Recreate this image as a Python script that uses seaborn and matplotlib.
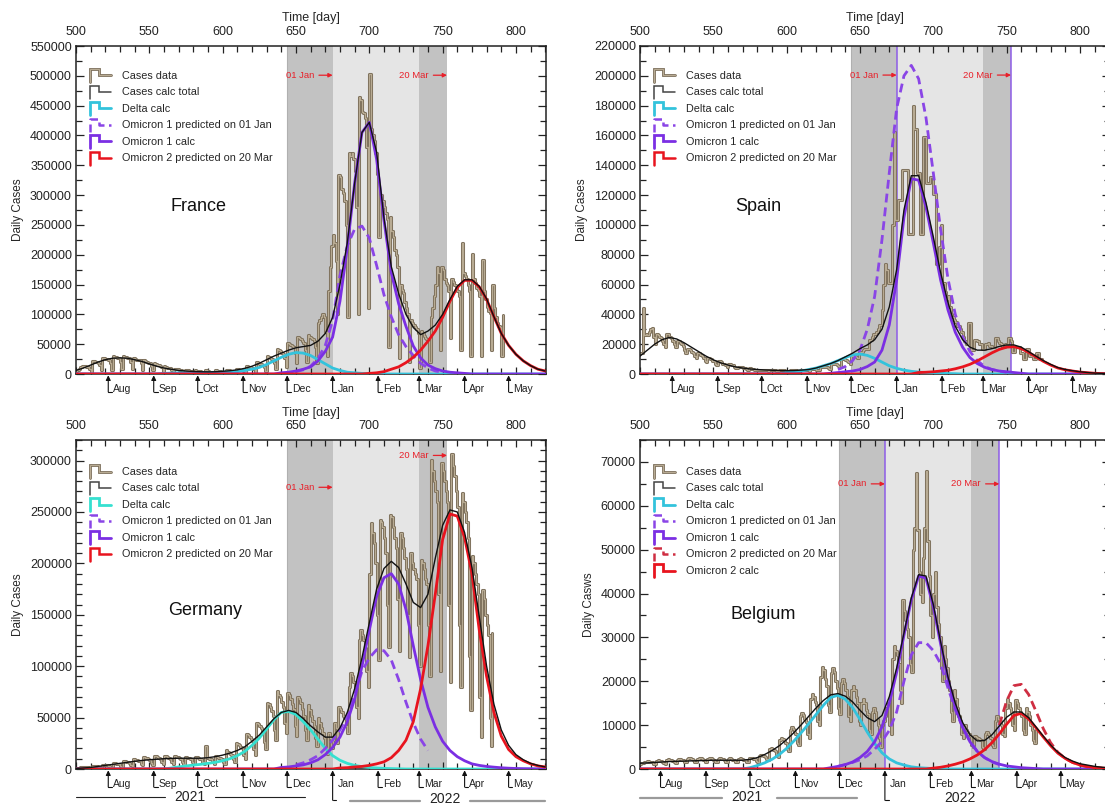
import numpy as np
import matplotlib
matplotlib.use("Agg")
import matplotlib.pyplot as plt
import matplotlib.transforms as mtransforms
from matplotlib.lines import Line2D
from matplotlib.legend_handler import HandlerBase
from matplotlib.ticker import MultipleLocator, FormatStrFormatter
import seaborn as sns

sns.set_theme(style="white")
plt.rcParams["font.family"] = ["Liberation Sans", "DejaVu Sans"]

nan = np.nan
# ---------------------------------------------------------------- data
# model curves sampled every 5 days from day 500 to day 820 (thousands of cases)
CURVE_DAY0, CURVE_STEP = 500, 5
# daily case data start day (thousands of cases), listed week by week
DATA_DAY0 = 500

MONTHS = ["Aug", "Sep", "Oct", "Nov", "Dec", "Jan", "Feb", "Mar", "Apr", "May"]
MONTH_FROM_JAN1 = [-153, -122, -92, -61, -31, 0, 31, 59, 90, 120]
MAR20_FROM_JAN1 = 78

# ---- France
fr_jan1 = 675
fr_data = [5, 7, 9, 11,
    14, 13, 13, 12, 12, 9, 4,
    22, 21, 20, 20, 19, 15, 6,
    27, 26, 25, 25, 24, 18, 7,
    30, 29, 28, 27, 27, 20, 8,
    31, 29, 28, 27, 26, 20, 8,
    27, 25, 24, 24, 23, 18, 7,
    23, 21, 20, 19, 19, 14, 6,
    18, 16, 15, 15, 14, 11, 4,
    13, 11, 10, 10, 10, 7, 3,
    9, 8, 8, 7, 7, 5, 2,
    7, 6, 6, 5, 5, 4, 2,
    6, 5, 5, 5, 4, 3, 1,
    6, 5, 5, 4, 4, 3, 1,
    6, 5, 5, 5, 4, 3, 1,
    7, 6, 6, 5, 5, 4, 2,
    9, 8, 7, 7, 7, 5, 2,
    13, 12, 11, 10, 10, 8, 3,
    20, 18, 17, 16, 15, 12, 5,
    30, 28, 27, 25, 24, 18, 8,
    42, 40, 38, 36, 34, 26, 12,
    52, 50, 48, 47, 45, 35, 18,
    62, 60, 58, 55, 52, 40, 20,
    65, 62, 60, 58, 56, 45, 18,
    85, 90, 95, 100, 95, 70, 30,
    140, 180, 215, 233, 220, 190, 100,
    334, 330, 310, 303, 290, 250, 96,
    370, 365, 370, 360, 340, 280, 100,
    465, 460, 440, 437, 430, 380, 110,
    503, 410, 400, 390, 370, 336, 230,
    300, 300, 290, 280, 270, 260, 46,
    264, 240, 230, 208, 200, 180, 26,
    150, 141, 135, 120, 110, 100, 20,
    90, 85, 82, 79, 75, 68, 10,
    72, 68, 64, 60, 58, 55, 20,
    95, 110, 130, 150, 180, 170, 40,
    180, 175, 160, 152, 150, 140, 60,
    160, 155, 150, 145, 140, 130, 40,
    219, 170, 165, 160, 150, 140, 30,
    202, 160, 152, 145, 141, 130, 30,
    191, 140, 125, 113, 105, 102, 40,
    150, 110, 95, 85, 80, 79, 30,
    99]
fr_total = [6, 10, 15, 20, 24, 26.5, 27, 26.5, 24, 21,
            17, 13, 10, 8, 6, 5, 4.2, 3.8, 3.6, 3.8,
            4.5, 5.5, 7, 9.5, 13, 18, 24, 30, 35, 40,
            44, 46, 48, 55, 68, 95, 150, 220, 320, 405,
            422, 372, 262, 180, 135, 100, 78, 66, 72, 82,
            100, 125, 147, 158, 158, 147, 126, 96, 68, 48,
            33, 22, 14, 8, 5]
fr_delta = [0] * 10 + [0, 0, 1, 1.5, 2, 2, 2, 2.2, 2.5, 2.8,
            3, 3.5, 4, 6, 8, 11, 16, 22, 28, 33,
            36, 35, 31, 24, 17, 10, 6, 3, 2, 1,
            0.5, 0.2, 0, 0, 0, 0, 0, 0, 0, 0] + [0] * 15
fr_o1_pred = [nan] * 28 + [1, 2,
              4, 7, 13, 26, 48, 90, 165, 215, 243, 248,
              228, 182, 133, 96, 66, 46, 31, 18, 10, 5, 3] + [nan] * 14
fr_o1 = [0] * 28 + [2, 3,
         5, 8, 12, 22, 38, 62, 122, 212, 320, 405,
         422, 360, 258, 170, 118, 80, 47, 27, 15, 9,
         5, 3, 2, 1, 0, 0, 0, 0, 0, 0] + [0] * 5
fr_o2_pred = [0] * 40 + [1, 2, 4, 8, 12, 19, 28, 40, 55, 72,
              95, 122, 145, 157, 157, 146, 125, 96, 68, 48,
              33, 22, 14, 8, 5]

# ---- Spain
es_jan1 = 675
es_data = [14, 14, 44, 26,
    27, 26, 28, 30, 31, 25, 20,
    27, 26, 25, 24, 22, 20, 18,
    27, 27, 25, 24, 22, 20, 18,
    22, 22, 21, 20, 19, 16, 14,
    17, 17, 16, 15, 14, 12, 11,
    14, 14, 13, 12, 11, 9, 8,
    11, 11, 10, 9, 9, 7, 6,
    9, 9, 8, 7, 7, 6, 5,
    7, 7, 6, 6, 5, 4, 4,
    5, 5, 4.5, 4, 4, 3.5, 3,
    4, 4, 3.5, 3.5, 3, 2.5, 2.5,
    3, 3, 3, 3, 2.8, 2.5, 2,
    3, 3, 2.5, 2.5, 2.5, 2, 2,
    2.5, 2.5, 2.5, 2.5, 2, 2, 2,
    2.5, 2.5, 2.5, 2.5, 2.5, 2, 2,
    3, 3, 3, 3, 2.5, 2.5, 2,
    3.5, 3.5, 3.5, 3.5, 3, 3, 2.5,
    5, 5, 5, 5, 4.5, 4, 3.5,
    7, 7, 7, 6.5, 6, 5.5, 5,
    10, 10, 10, 9.5, 9, 8, 7,
    12, 12, 12, 11.5, 11, 15, 15,
    15, 16, 17, 17, 17, 23, 23,
    25, 27, 27, 28, 30, 33, 33,
    43, 60, 74, 70, 61, 61, 61,
    100, 162, 103, 103, 117, 117, 117,
    137, 137, 137, 137, 94, 94, 94,
    180, 164, 164, 135, 135, 94, 94,
    159, 159, 128, 128, 128, 132, 132,
    121, 121, 74, 74, 85, 100, 61,
    61, 55, 50, 52, 45, 40, 38,
    36, 35, 32, 32, 30, 28, 25,
    22, 20, 20, 34, 34, 16, 16,
    23, 23, 22, 20, 20, 17, 17,
    20, 20, 21, 19, 19, 18, 18,
    24, 24, 22, 21, 20, 18, 18,
    20, 20, 24, 24, 22, 15, 15,
    18, 18, 18, 14, 14, 10, 10,
    17, 17, 12, 12, 12, 10, 10,
    14, 14, 10, 10, 10]
es_total = [12, 16, 20, 23, 24.5, 23.5, 21, 18, 15, 12,
            9.5, 7.5, 6, 4.8, 4, 3.4, 3, 2.7, 2.5, 2.3,
            2.2, 2.3, 2.6, 3, 4, 5.5, 7, 9, 11.5, 14,
            17, 19.5, 23, 30, 45, 70, 110, 133, 133, 115,
            92, 68, 48, 32, 23, 18, 16, 16, 17, 18.5,
            19.5, 19.5, 18, 15, 12, 9, 6.5, 4.3, 3, 2.2,
            1.5, 1, 0.6, 0.4, 0.3]
es_delta = [0] * 20 + [1, 1.5, 2, 3, 4, 5.5, 7, 9, 11, 12.8,
            13.4, 12.5, 10.5, 8, 5.5, 3.8, 2.6, 1.8, 1.3, 1,
            0.7, 0.5, 0.3, 0.2, 0, 0, 0, 0, 0, 0] + [0] * 15
es_o1_pred = [nan] * 27 + [3, 5, 9,
              16, 30, 52, 90, 135, 178, 200, 207, 198, 172,
              135, 97, 64, 40, 25, 15, 9, 5, 3, 2, 1] + [nan] * 14
es_o1 = [0] * 26 + [0.5, 1, 1.5, 2,
         3, 5, 8, 16, 33, 63, 105, 131, 130, 112,
         88, 63, 43, 28, 18, 11, 7, 4.5, 3, 2,
         1.5, 1, 0.5, 0, 0, 0, 0, 0, 0, 0] + [0] * 5
es_o2_pred = [0] * 38 + [1, 1.2,
              1.5, 2, 2.5, 3.5, 4.8, 6.5, 8.8, 11.5, 14.2, 16.5,
              18, 18.3, 17, 14.5, 11.5, 8.5, 6, 4, 2.8, 2,
              1.3, 0.9, 0.5, 0.3, 0.2]

# ---- Germany
de_jan1 = 675
de_data = [1, 1, 1, 1.5,
    2, 2, 2, 2, 1.5, 1, 0.5,
    3, 3, 2.5, 2.5, 2, 1.5, 1,
    4, 4, 4, 3.5, 3, 2, 1.5,
    6, 6, 5, 5, 4.5, 3, 2,
    8, 7.5, 7, 6.5, 6, 4, 3,
    9.5, 9, 8.5, 8, 7.5, 5, 3.5,
    12, 11, 10.5, 10, 9, 6, 4,
    13, 12.5, 12, 11, 10, 7, 5,
    13, 12.5, 12, 11, 10, 7, 5,
    12.5, 12, 11.5, 11, 10, 7, 5,
    12, 11.5, 11, 10.5, 10, 7, 5,
    12, 11.5, 11, 10, 9.5, 6.5, 5,
    22, 11, 10.5, 10, 9.5, 7, 5,
    13, 12, 11, 11, 10, 7, 5,
    18, 17, 16, 15, 14, 10, 7,
    25, 24, 23, 21, 20, 14, 10,
    34, 33, 31, 29, 27, 19, 14,
    45, 44, 42, 40, 37, 26, 19,
    64, 63, 60, 56, 52, 38, 28,
    76, 72, 70, 65, 60, 45, 35,
    74, 72, 68, 63, 58, 42, 32,
    70, 68, 64, 58, 52, 38, 28,
    62, 57, 52, 47, 42, 30, 22,
    50, 45, 40, 35, 30, 20, 15,
    35, 30, 20, 28, 45, 40, 25,
    60, 58, 55, 52, 50, 42, 35,
    80, 93, 90, 85, 80, 60, 50,
    125, 135, 130, 125, 118, 95, 80,
    190, 239, 230, 220, 200, 150, 106,
    242, 240, 235, 225, 210, 160, 119,
    247, 245, 235, 225, 215, 165, 115,
    230, 225, 215, 205, 195, 150, 109,
    210, 200, 195, 190, 185, 140, 100,
    203, 200, 195, 185, 180, 140, 90,
    301, 290, 280, 270, 260, 170, 95,
    298, 290, 280, 270, 260, 160, 85,
    306, 295, 285, 270, 255, 140, 80,
    268, 260, 250, 240, 225, 110, 57,
    207, 200, 190, 180, 170, 70, 31,
    174, 165, 150, 140, 130, 50, 22,
    132]
de_total = [0.5, 1, 1.5, 2.5, 3.5, 4.5, 5.5, 6.5, 7.5, 8.3,
            9, 9.5, 10, 10.3, 10.5, 10.5, 10.5, 10.5, 11, 12,
            13.5, 15.5, 18, 21.5, 27, 33, 41, 49, 55, 57,
            55, 49, 42, 36, 31, 31, 40, 55, 78, 108,
            142, 175, 195, 202, 196, 180, 162, 157, 170, 205,
            237, 252, 250, 230, 196, 148, 100, 63, 38, 23,
            14, 9, 5.5, 3.5, 2]
de_delta = [0] * 13 + [1, 2, 3, 3.8, 4.5, 5.5, 6.5,
            8, 10, 13, 17, 23, 30, 39, 48, 55, 56,
            53, 46, 38, 29, 20, 13, 8.5, 5.5, 3.5, 2.3,
            1.5, 1, 0.6, 0.4, 0.2, 0, 0, 0, 0, 0] + [0] * 15
de_o1_pred = [nan] * 30 + [4, 6, 9, 13, 20, 28, 38, 52, 72, 95,
              108, 116, 115, 106, 87, 65, 45, 29, 18] + [nan] * 16
de_o1 = [0] * 28 + [1.5, 2,
         3, 4, 6, 9, 14, 21, 31, 46, 68, 100,
         135, 168, 186, 190, 180, 155, 120, 87, 60, 41,
         27, 18, 12, 8, 5, 3.5, 2.5, 1.8, 1.2, 0.8,
         0.5, 0.3, 0.2, 0.1, 0]
de_o2_pred = [0] * 36 + [1, 1.3, 2, 2.5,
              3.5, 5, 7, 11, 18, 28, 46, 78, 120, 170,
              223, 248, 246, 225, 190, 135, 90, 55, 32, 19,
              12, 8, 5, 3, 2]

# ---- Belgium
be_jan1 = 667
be_data = [1.2, 1.3, 1.4, 1.5,
    1.6, 1.8, 1.7, 1.6, 1.5, 1.2, 1.1,
    1.8, 2.0, 1.9, 1.8, 1.7, 1.3, 1.2,
    2.0, 2.2, 2.1, 2.0, 1.9, 1.5, 1.4,
    2.1, 2.3, 2.2, 2.1, 2.0, 1.6, 1.5,
    2.2, 2.5, 2.4, 2.2, 2.1, 1.7, 1.5,
    2.3, 2.6, 2.4, 2.3, 2.1, 1.7, 1.6,
    2.3, 2.5, 2.4, 2.2, 2.1, 1.7, 1.6,
    2.2, 2.4, 2.3, 2.2, 2.0, 1.6, 1.5,
    2.2, 2.4, 2.3, 2.1, 2.0, 1.6, 1.5,
    2.2, 2.4, 2.3, 2.1, 2.0, 1.6, 1.5,
    2.4, 2.6, 2.5, 2.3, 2.2, 1.8, 1.6,
    3.0, 3.3, 3.2, 3.0, 2.8, 2.2, 2.0,
    4.5, 4.8, 4.6, 4.3, 4.0, 3.0, 2.7,
    6.5, 7.0, 6.8, 6.3, 5.9, 4.5, 4.0,
    9.0, 9.5, 9.2, 8.5, 8.0, 6.0, 5.5,
    12.0, 12.8, 12.4, 11.5, 10.8, 8.0, 7.0,
    16.0, 17.0, 16.5, 15.3, 14.5, 11.0, 10.0,
    21.0, 23.3, 22.5, 20.5, 19.0, 14.5, 13.0,
    21.8, 23.0, 22.0, 20.0, 18.5, 14.0, 12.5,
    19.5, 20.5, 19.5, 18.0, 16.5, 12.0, 11.0,
    18.0, 19.0, 18.0, 16.5, 15.0, 11.0, 10.0,
    15.0, 16.0, 15.0, 13.5, 12.5, 9.0, 8.0,
    13.0, 14.0, 13.0, 11.5, 10.0, 7.0, 5.0,
    10.0, 11.0, 12.0, 14.0, 15.0, 10.0, 8.0,
    25.0, 28.0, 27.0, 26.0, 24.0, 18.0, 15.0,
    38.5, 36.0, 34.0, 32.0, 30.0, 24.0, 22.0,
    50.0, 55.0, 67.4, 54.5, 45.0, 40.0, 38.0,
    48.0, 55.0, 68.0, 52.0, 44.0, 35.0, 30.0,
    40.0, 45.0, 37.0, 33.0, 30.0, 23.0, 20.0,
    28.0, 25.0, 23.0, 20.0, 18.0, 13.0, 11.0,
    18.0, 16.0, 14.0, 12.0, 11.0, 8.0, 7.0,
    10.0, 9.0, 8.5, 8.0, 7.5, 5.5, 5.0,
    7.5, 7.2, 7.0, 6.8, 6.5, 5.0, 4.5,
    8.0, 8.5, 8.0, 7.5, 7.0, 5.5, 5.0,
    11.0, 12.0, 11.5, 11.0, 10.0, 8.0, 7.5,
    14.0, 16.0, 15.0, 14.0, 13.0, 10.0, 9.0,
    15.7, 15.0, 14.0, 13.0, 12.0, 9.0, 8.0,
    14.0, 13.0, 12.0, 10.0, 9.0, 6.5, 6.0,
    9.0]
be_total = [1.3, 1.4, 1.5, 1.6, 1.7, 1.75, 1.8, 1.85, 1.9, 1.95,
            2, 2, 2, 2, 2, 2.2, 2.6, 3.3, 4.2, 5.3,
            6.7, 8.3, 10.1, 12, 13.9, 15.6, 16.9, 17.2, 16.6, 15.3,
            13.4, 11.7, 10.8, 12.2, 16.5, 23, 31, 39, 44.3, 44,
            37.5, 29, 21, 15, 10.6, 7.8, 6.4, 6.5, 7.8, 9.8,
            11.8, 13, 13, 11.7, 9.6, 7.5, 5.5, 3.8, 2.6, 1.8,
            1.2, 0.9, 0.6, 0.4, 0.3]
be_delta = [0] * 15 + [0.3, 0.8, 1.4, 2.2, 3.3,
            4.7, 6.4, 8.3, 10.3, 12.4, 14.5, 16.3, 16.8, 15.9, 14,
            11.3, 8.4, 5.8, 3.7, 2.3, 1.4, 0.9, 0.5, 0.3, 0.2,
            0.1, 0, 0, 0, 0, 0, 0, 0, 0, 0] + [0] * 15
be_o1_pred = [nan] * 27 + [0.6, 1, 1.5,
              2.1, 3, 4.5, 6.3, 8.8, 13, 20, 26, 28.8, 28.8,
              27, 24, 18.5, 13.5, 9.5, 6.3, 4, 2.6, 1.6, 1] + [nan] * 15
be_o1 = [0] * 26 + [0.3, 0.6, 1, 1.6,
         2.6, 4, 6.2, 9.6, 15, 22, 30.5, 38.5, 44, 43.5,
         37, 28.5, 20.5, 14, 9.5, 6.2, 4, 2.6, 1.7, 1.1,
         0.7, 0.5, 0.3, 0.2, 0.1, 0, 0, 0, 0, 0] + [0] * 5
be_o2_pred = [nan] * 49 + [10,
              15.5, 19, 19.3, 17, 13.2, 9.2, 6, 3.8, 2.4, 1.5,
              0.9, 0.5, 0.3, 0.2, 0.1]
be_o2 = [0] * 40 + [0.2, 0.4, 0.7, 1.1, 1.6, 2.3, 3.2, 4.4, 6, 8,
         10.2, 12.2, 12.7, 11.4, 9.4, 7.3, 5.3, 3.6, 2.4, 1.5,
         0.9, 0.6, 0.3, 0.2, 0.1]

# ---------------------------------------------------------------- style
C_DATA_EDGE = "#7a6d58"
C_DATA_FILL = "#b8ab93"
C_TOTAL = "#111111"
C_PURPLE = "#7b2fe3"
C_PURPLE_D = "#8a45e6"
C_RED = "#e8141e"
C_RED_D = "#cf2e42"
C_ANN = "#e8202a"
C_DARK = "#c2c2c2"
C_LIGHT = "#e5e5e5"
C_VLINE = "#8d5ce6"
DASH = (0, (3.2, 1.8))

W, H = 1105, 805
fig = plt.figure(figsize=(W / 100, H / 100), dpi=100)


class StepHandler(HandlerBase):
    def __init__(self, colors, widths, ls="-"):
        super().__init__()
        self.colors, self.widths, self.ls = colors, widths, ls

    def create_artists(self, legend, orig_handle, xdescent, ydescent,
                       width, height, fontsize, trans):
        x0, y0 = -xdescent, -ydescent
        xs = [x0, x0, x0 + 0.42 * width, x0 + 0.42 * width, x0 + width]
        ys = [y0 - 0.45 * height, y0 + 1.25 * height, y0 + 1.25 * height,
              y0 + 0.45 * height, y0 + 0.45 * height]
        arts = []
        for c, w in zip(self.colors, self.widths):
            ln = Line2D(xs, ys, color=c, lw=w, linestyle=self.ls,
                        solid_joinstyle="miter")
            ln.set_transform(trans)
            arts.append(ln)
        return arts


def px_axes(left, top, right, bottom):
    return fig.add_axes([left / W, 1 - bottom / H, (right - left) / W, (bottom - top) / H])


def draw_panel(ax, country, jan1, data, total, delta, o1p, o1, o2p, o2,
               ymax, ymaj, ymin, ylabel, ann_y, vlines, name_xy,
               cyan, o2p_dashed=False, jan_long=False, leg_top=0.93):
    cdays = CURVE_DAY0 + CURVE_STEP * np.arange(len(total))
    ddays = DATA_DAY0 + np.arange(len(data))
    k = 1000.0
    dec1 = jan1 + MONTH_FROM_JAN1[4]
    mar1 = jan1 + MONTH_FROM_JAN1[7]
    mar20 = jan1 + MAR20_FROM_JAN1
    ax.axvspan(dec1, jan1, color=C_DARK, lw=0, zorder=0)
    ax.axvspan(jan1, mar1, color=C_LIGHT, lw=0, zorder=0)
    ax.axvspan(mar1, mar20, color=C_DARK, lw=0, zorder=0)
    ax.axvline(dec1, color="#b0b0b0", lw=0.8, zorder=0.5)
    if vlines:
        ax.axvline(jan1, color=C_VLINE, lw=1.1, zorder=1)
        ax.axvline(mar20, color=C_VLINE, lw=1.1, zorder=1)

    y = np.asarray(data, float) * k
    sns.lineplot(x=ddays, y=y, ax=ax, color=C_DATA_EDGE, lw=2.2,
                 drawstyle="steps-post", estimator=None, zorder=2)
    sns.lineplot(x=ddays, y=y, ax=ax, color=C_DATA_FILL, lw=0.9,
                 drawstyle="steps-post", estimator=None, zorder=2.1)

    def curve(vals, color, lw, ls="-", z=3):
        v = np.asarray(vals, float) * k
        m = ~np.isnan(v)
        sns.lineplot(x=cdays[m], y=v[m], ax=ax, color=color, lw=lw,
                     linestyle=ls, estimator=None, zorder=z)

    curve(total, C_TOTAL, 1.0, z=3.6)
    curve(delta, cyan, 2.0, z=3.2)
    curve(o1p, C_PURPLE_D, 2.0, DASH, z=3.3)
    curve(o1, C_PURPLE, 2.0, z=3.4)
    if o2p_dashed:
        curve(o2p, C_RED_D, 2.0, DASH, z=3.45)
        curve(o2, C_RED, 2.0, z=3.5)
    else:
        curve(o2p, C_RED, 2.0, z=3.5)

    ax.set_xlim(500, 820.5)
    ax.set_ylim(0, ymax)
    ax.set_xlabel("Time [day]", fontsize=9, labelpad=3)
    ax.xaxis.set_label_position("top")
    ax.set_ylabel(ylabel, fontsize=8.5, labelpad=4)
    ax.xaxis.set_major_locator(MultipleLocator(50))
    ax.xaxis.set_minor_locator(MultipleLocator(10))
    ax.yaxis.set_major_locator(MultipleLocator(ymaj))
    ax.yaxis.set_minor_locator(MultipleLocator(ymin))
    ax.yaxis.set_major_formatter(FormatStrFormatter("%d"))
    ax.tick_params(axis="x", which="both", top=True, bottom=True, labeltop=True,
                   labelbottom=False, direction="in", width=0.9, labelsize=9,
                   pad=6, colors="#222222")
    ax.tick_params(axis="x", which="major", length=5)
    ax.tick_params(axis="x", which="minor", length=4)
    ax.tick_params(axis="y", which="both", left=True, right=True, direction="in",
                   width=0.9, labelsize=9, pad=3, colors="#222222")
    ax.tick_params(axis="y", which="major", length=6)
    ax.tick_params(axis="y", which="minor", length=4)
    for s in ax.spines.values():
        s.set_color("#222222")
        s.set_linewidth(1.1)

    ax.text(name_xy[0], name_xy[1], country, transform=ax.transAxes,
            fontsize=13, ha="center", va="center", color="#111111")

    # red markers "01 Jan ->" and "20 Mar ->"
    for lab, xd in (("01 Jan", jan1), ("20 Mar", mar20)):
        ax.annotate(lab, xy=(xd, ann_y[lab] * k), xytext=(xd - 12.5, ann_y[lab] * k),
                    ha="right", va="center", fontsize=6.8, color=C_ANN, zorder=6,
                    arrowprops=dict(arrowstyle="-|>", color=C_ANN, lw=0.9,
                                    mutation_scale=6, shrinkA=1, shrinkB=0))

    # month markers below the axis
    tr = mtransforms.blended_transform_factory(ax.transData, ax.transAxes)
    shaft = 0.055
    for mname, off in zip(MONTHS, MONTH_FROM_JAN1):
        d = jan1 + off
        low = -shaft
        if jan_long and mname == "Jan":
            low = -0.095
        ax.annotate("", xy=(d, -0.004), xycoords=tr, xytext=(d, low), textcoords=tr,
                    arrowprops=dict(arrowstyle="-|>", color="#111111", lw=0.8,
                                    mutation_scale=7, shrinkA=0, shrinkB=0),
                    annotation_clip=False)
        ax.add_line(Line2D([d, d + 2.6], [low, low], transform=tr, color="#111111",
                           lw=0.8, clip_on=False))
        ax.text(d + 3.2, -shaft + 0.008, mname, transform=tr, fontsize=7.5,
                ha="left", va="center", color="#222222", clip_on=False)

    # legend with step-shaped glyphs
    labels = ["Cases data", "Cases calc total", "Delta calc",
              "Omicron 1 predicted on 01 Jan", "Omicron 1 calc",
              "Omicron 2 predicted on 20 Mar"]
    handles = [Line2D([], []) for _ in labels]
    hmap = {handles[0]: StepHandler([C_DATA_EDGE, C_DATA_FILL], [2.0, 0.8]),
            handles[1]: StepHandler(["#444444"], [1.1]),
            handles[2]: StepHandler([cyan], [2.0]),
            handles[3]: StepHandler([C_PURPLE_D], [1.8], DASH),
            handles[4]: StepHandler([C_PURPLE], [2.0]),
            handles[5]: StepHandler([C_RED_D if o2p_dashed else C_RED], [1.8],
                                    DASH if o2p_dashed else "-")}
    if o2p_dashed:
        h = Line2D([], [])
        handles.append(h)
        labels.append("Omicron 2 calc")
        hmap[h] = StepHandler([C_RED], [2.0])
    ax.legend(handles, labels, handler_map=hmap, loc="upper left",
              bbox_to_anchor=(0.03, leg_top), frameon=False, fontsize=7.8,
              handlelength=1.9, handleheight=0.7, handletextpad=1.0,
              labelspacing=0.6, borderpad=0, borderaxespad=0)


ax_fr = px_axes(76, 46, 546, 374)
ax_es = px_axes(640, 46, 1110, 374)
ax_de = px_axes(76, 440, 546, 769)
ax_be = px_axes(640, 440, 1110, 769)

CYAN = "#33c3dc"
CYAN_DE = "#36e0d0"

draw_panel(ax_fr, "France", fr_jan1, fr_data, fr_total, fr_delta, fr_o1_pred, fr_o1,
           fr_o2_pred, None, 550000, 50000, 25000, "Daily Cases",
           {"01 Jan": 501, "20 Mar": 501}, False, (0.26, 0.51), CYAN, leg_top=0.925)
draw_panel(ax_es, "Spain", es_jan1, es_data, es_total, es_delta, es_o1_pred, es_o1,
           es_o2_pred, None, 220000, 20000, 10000, "Daily Cases",
           {"01 Jan": 200.5, "20 Mar": 200.5}, True, (0.251, 0.51), CYAN, leg_top=0.925)
draw_panel(ax_de, "Germany", de_jan1, de_data, de_total, de_delta, de_o1_pred, de_o1,
           de_o2_pred, None, 320000, 50000, 10000, "Daily Cases",
           {"01 Jan": 274, "20 Mar": 305}, False, (0.274, 0.483), CYAN_DE,
           jan_long=True, leg_top=0.918)
draw_panel(ax_be, "Belgium", be_jan1, be_data, be_total, be_delta, be_o1_pred, be_o1,
           be_o2_pred, be_o2, 75000, 10000, 5000, "Daily Casws",
           {"01 Jan": 65, "20 Mar": 65}, True, (0.262, 0.471), CYAN,
           o2p_dashed=True, jan_long=True, leg_top=0.918)


# year labels under the bottom panels (figure pixel coordinates)
def fline(x0, x1, ypx, color, lw):
    fig.add_artist(Line2D([x0 / W, x1 / W], [1 - ypx / H, 1 - ypx / H],
                          transform=fig.transFigure, color=color, lw=lw))


def ftext(xpx, ypx, s):
    fig.text(xpx / W, 1 - ypx / H, s, ha="center", va="center", fontsize=10, color="#222222")


fline(76, 165, 797, "#222222", 0.8)
fline(215, 305, 797, "#222222", 0.8)
ftext(190, 797, "2021")
fline(350, 420, 801, "#9a9a9a", 1.6)
fline(470, 545, 801, "#9a9a9a", 1.6)
ftext(445, 799, "2022")
fline(640, 722, 798, "#9a9a9a", 1.6)
fline(777, 857, 798, "#9a9a9a", 1.6)
ftext(747, 797, "2021")
ftext(960, 798, "2022")

fig.savefig("out.png", dpi=100)
